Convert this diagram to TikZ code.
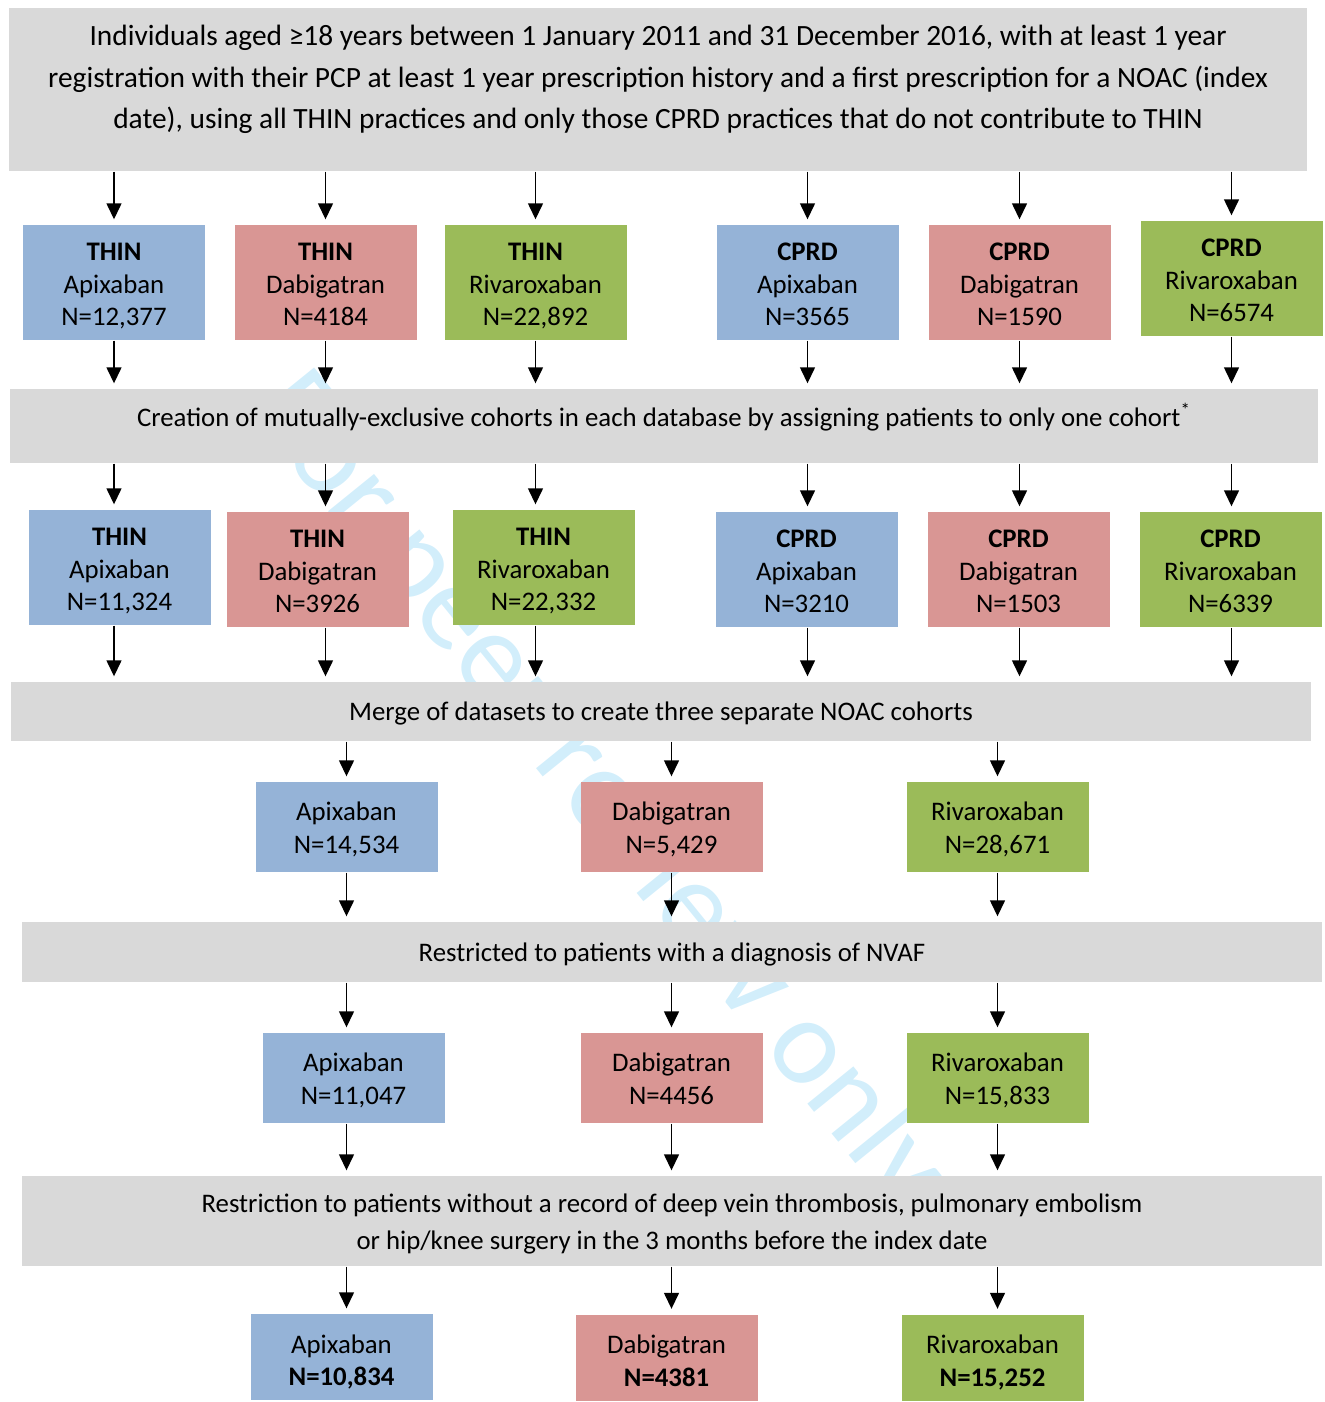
\documentclass[tikz,border=0pt]{standalone}
\usepackage{fontspec}
\setmainfont{Carlito}
\usetikzlibrary{arrows.meta}
\definecolor{apxblue}{HTML}{95B3D7}
\definecolor{dabred}{HTML}{D99694}
\definecolor{rivgreen}{HTML}{9BBB59}
\definecolor{bandgray}{HTML}{D9D9D9}
\definecolor{wmblue}{RGB}{210,238,251}
\begin{document}
\begin{tikzpicture}[x=0.5pt, y=-0.5pt, line width=0.7pt,
    font=\fontsize{13.4}{16.25}\selectfont,
    >={Triangle[length=8pt,width=7.5pt]},
    flow/.style={->, shorten >=2.5pt},
    box/.style={minimum width=91pt, minimum height=57.5pt, inner sep=0pt, align=center,
      text height=43pt, text depth=0pt},
    cbox/.style={box, minimum height=45pt, text height=26.25pt},
    apx/.style={fill=apxblue}, dab/.style={fill=dabred}, riv/.style={fill=rivgreen},
    band/.style={fill=bandgray, inner sep=0pt, align=center, text height=9pt, text depth=0pt}]
\useasboundingbox (0,0) rectangle (1324,1402);
% watermark
\node[rotate=-51, text=wmblue, font=\fontsize{62}{62}\selectfont] (wm) at (598,792) {For peer review only};
% top
\node[fill=bandgray, minimum width=649pt, minimum height=81.5pt] (top) at (658,89.5) {};
\node[align=center, font=\fontsize{14.7}{20.75}\selectfont] (toptxt) at ([yshift=5pt]top.center)
  {Individuals aged ≥18 years between 1 January 2011 and 31 December 2016, with at least 1 year\\
   registration with their PCP at least 1 year prescription history and a first prescription for a NOAC (index\\
   date), using all THIN practices and only those CPRD practices that do not contribute to THIN};
% first split
\node[box, apx] (t1) at (114,282.5) {\textbf{THIN}\\Apixaban\\N=12,377};
\node[box, dab] (t2) at (325.5,282.5) {\textbf{THIN}\\Dabigatran\\N=4184};
\node[box, riv] (t3) at (535.5,282.5) {\textbf{THIN}\\Rivaroxaban\\N=22,892};
\node[box, apx] (t4) at (807.5,282.5) {\textbf{CPRD}\\Apixaban\\N=3565};
\node[box, dab] (t5) at (1019.5,282.5) {\textbf{CPRD}\\Dabigatran\\N=1590};
\node[box, riv] (t6) at (1231.5,278.5) {\textbf{CPRD}\\Rivaroxaban\\N=6574};
\node[fill=bandgray, minimum width=654pt, minimum height=37pt] (cr) at (664,426) {};
\node (crtxt) at ([yshift=4.5pt]cr.center) {Creation of mutually-exclusive cohorts in each database by assigning patients to only one cohort\textsuperscript{*}};
% mutually exclusive
\node[box, apx] (u1) at (119.5,567.5) {\textbf{THIN}\\Apixaban\\N=11,324};
\node[box, dab] (u2) at (317.5,569.5) {\textbf{THIN}\\Dabigatran\\N=3926};
\node[box, riv] (u3) at (543.5,567.5) {\textbf{THIN}\\Rivaroxaban\\N=22,332};
\node[box, apx] (u4) at (806.5,569.5) {\textbf{CPRD}\\Apixaban\\N=3210};
\node[box, dab] (u5) at (1018.5,569.5) {\textbf{CPRD}\\Dabigatran\\N=1503};
\node[box, riv] (u6) at (1230.5,569.5) {\textbf{CPRD}\\Rivaroxaban\\N=6339};
\node[band, minimum width=650pt, minimum height=29.5pt] (mg) at (661,711.5) {Merge of datasets to create three separate NOAC cohorts};
% merged
\node[cbox, apx] (m1) at (346.5,827) {Apixaban\\N=14,534};
\node[cbox, dab] (m2) at (671.5,827) {Dabigatran\\N=5,429};
\node[cbox, riv] (m3) at (997.5,827) {Rivaroxaban\\N=28,671};
\node[band, minimum width=650pt, minimum height=30pt] (nv) at (672,952) {Restricted to patients with a diagnosis of NVAF};
\node[cbox, apx] (n1) at (353.5,1078) {Apixaban\\N=11,047};
\node[cbox, dab] (n2) at (671.5,1078) {Dabigatran\\N=4456};
\node[cbox, riv] (n3) at (997.5,1078) {Rivaroxaban\\N=15,833};
\node[band, minimum width=650pt, minimum height=45pt, text height=28pt, font=\fontsize{13.4}{18.5}\selectfont] (rs) at (672,1221)
  {Restriction to patients without a record of deep vein thrombosis, pulmonary embolism\\
   or hip/knee surgery in the 3 months before the index date};
\node[cbox, apx, minimum height=43pt, text height=28.75pt] (f1) at (341.5,1357) {Apixaban\\\textbf{N=10,834}};
\node[cbox, dab, minimum height=43pt, text height=28.75pt] (f2) at (666.5,1357.5) {Dabigatran\\\textbf{N=4381}};
\node[cbox, riv, minimum height=43pt, text height=28.75pt] (f3) at (992.5,1357.5) {Rivaroxaban\\\textbf{N=15,252}};
% arrows
\foreach \i in {1,...,6} {
  \draw[flow] (top.south -| t\i) -- (t\i.north);
  \draw[flow] (t\i.south) -- (cr.north -| t\i);
  \draw[flow] (cr.south -| t\i) -- (u\i.north -| t\i);
  \draw[flow] (u\i.south -| t\i) -- (mg.north -| t\i);
}
\foreach \i in {1,2,3} {
  \draw[flow] (mg.south -| m\i) -- (m\i.north);
  \draw[flow] (m\i.south) -- (nv.north -| m\i);
  \draw[flow] (nv.south -| m\i) -- (n\i.north -| m\i);
  \draw[flow] (n\i.south -| m\i) -- (rs.north -| m\i);
  \draw[flow] (rs.south -| m\i) -- (f\i.north -| m\i);
}
\end{tikzpicture}
\end{document}
